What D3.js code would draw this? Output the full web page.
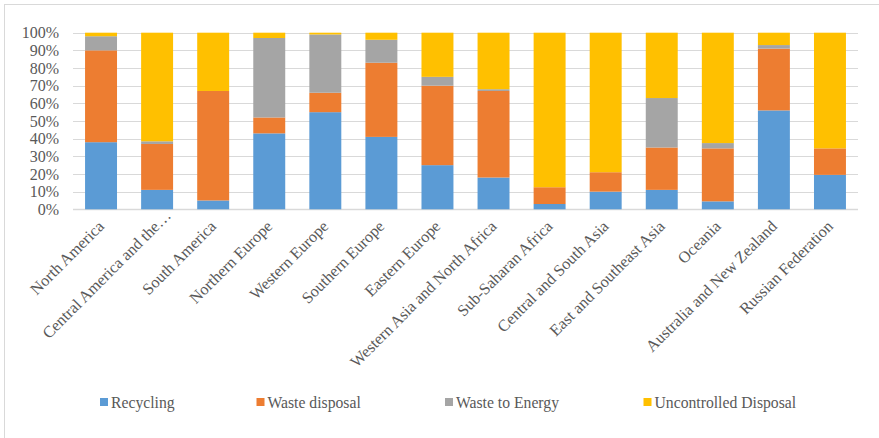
<!DOCTYPE html>
<html>
<head>
<meta charset="utf-8">
<script src="https://cdn.jsdelivr.net/npm/d3@7"></script>
<style>
  html, body { margin: 0; padding: 0; background: #fff; }
  svg { display: block; }
  svg text { font-family: "Liberation Serif", "Times New Roman", serif; fill: #595959; }
</style>
</head>
<body>
<svg id="chart" width="879" height="438"></svg>
<script>
// Regions and the share (%) of each waste-treatment route
const regions = [
  "North America", "Central America and the\u2026", "South America", "Northern Europe",
  "Western Europe", "Southern Europe", "Eastern Europe", "Western Asia and North Africa",
  "Sub-Saharan Africa", "Central and South Asia", "East and Southeast Asia", "Oceania",
  "Australia and New Zealand", "Russian Federation"
];
const recycling        = [38, 11, 5, 43, 55, 41, 25, 18, 3, 10, 11, 4.5, 56, 19.5];
const wasteDisposal    = [52, 26, 62, 9, 11, 42, 45, 49, 9.5, 11, 24, 30, 35, 15];
const wasteToEnergy    = [8, 1.5, 0, 45, 33, 13, 5, 1, 0, 0, 28, 3, 2, 0];
const uncontrolled     = [2, 61.5, 33, 3, 1, 4, 25, 32, 87.5, 79, 37, 62.5, 7, 65.5];

const seriesNames  = ["Recycling", "Waste disposal", "Waste to Energy", "Uncontrolled Disposal"];
const seriesColors = ["#5b9bd5", "#ed7d31", "#a5a5a5", "#ffc000"];
const yTicks = [0, 10, 20, 30, 40, 50, 60, 70, 80, 90, 100];

const FONT = "'Liberation Serif', 'Times New Roman', serif";
const svg = d3.select("#chart");

// outer chart frame
svg.append("rect")
  .attr("x", 4.5).attr("y", 4.5).attr("width", 880).attr("height", 440)
  .attr("fill", "none").attr("stroke", "#d9d9d9").attr("stroke-width", 1);

const plot = { left: 73, right: 858, top: 32.7, bottom: 209.3 };

const x = d3.scaleBand().domain(regions).range([plot.left, plot.right])
  .paddingInner(0.43).paddingOuter(0.215);
const y = d3.scaleLinear().domain([0, 100]).range([plot.bottom, plot.top]);

// gridlines
svg.append("g").selectAll("line").data(yTicks).join("line")
  .attr("x1", plot.left).attr("x2", plot.right)
  .attr("y1", d => Math.round(y(d)) + 0.5).attr("y2", d => Math.round(y(d)) + 0.5)
  .attr("stroke", "#d9d9d9").attr("stroke-width", d => d === 0 ? 1.5 : 1);

// y axis labels
const yAxis = d3.axisLeft(y).tickValues(yTicks).tickFormat(d => d + "%").tickSize(0).tickPadding(0);
svg.append("g").attr("transform", `translate(${plot.left - 14},0)`).call(yAxis)
  .attr("font-family", FONT).attr("font-size", 16)
  .call(g => g.select(".domain").remove())
  .call(g => g.selectAll("text").attr("fill", "#595959"));

// stacked bars
const rows = regions.map((r, i) => ({
  region: r,
  "Recycling": recycling[i],
  "Waste disposal": wasteDisposal[i],
  "Waste to Energy": wasteToEnergy[i],
  "Uncontrolled Disposal": uncontrolled[i]
}));
const stacked = d3.stack().keys(seriesNames)(rows);

svg.append("g").selectAll("g").data(stacked).join("g")
  .attr("fill", (d, i) => seriesColors[i])
  .selectAll("rect").data(d => d).join("rect")
  .attr("x", d => x(d.data.region))
  .attr("width", x.bandwidth())
  .attr("y", d => y(d[1]))
  .attr("height", d => Math.max(0, y(d[0]) - y(d[1])));

// category labels, rotated; a truncated label lets its ellipsis run past the tick
const xAxis = d3.axisBottom(x).tickSize(0).tickPadding(0);
svg.append("g").attr("transform", `translate(0,${plot.bottom})`).call(xAxis)
  .attr("font-family", FONT).attr("font-size", 16.2)
  .call(g => g.select(".domain").remove())
  .call(g => g.selectAll("text")
    .attr("fill", "#595959")
    .attr("text-anchor", "end")
    .attr("y", 0)
    .attr("dy", "0")
    .attr("dx", d => d.endsWith("\u2026") ? "0.94em" : "0")
    .attr("transform", "translate(4,18) rotate(-45)"));

// legend
const legendX = [100, 256.5, 445, 643.5];
const legend = svg.append("g").attr("font-family", FONT)
  .selectAll("g").data(seriesNames).join("g")
  .attr("transform", (d, i) => `translate(${legendX[i]},402)`);
legend.append("rect").attr("x", 0).attr("y", -4).attr("width", 8).attr("height", 8)
  .attr("fill", (d, i) => seriesColors[i]);
legend.append("text").attr("x", 11).attr("y", 5.5)
  .attr("font-size", 15.7).text(d => d);
</script>
</body>
</html>
